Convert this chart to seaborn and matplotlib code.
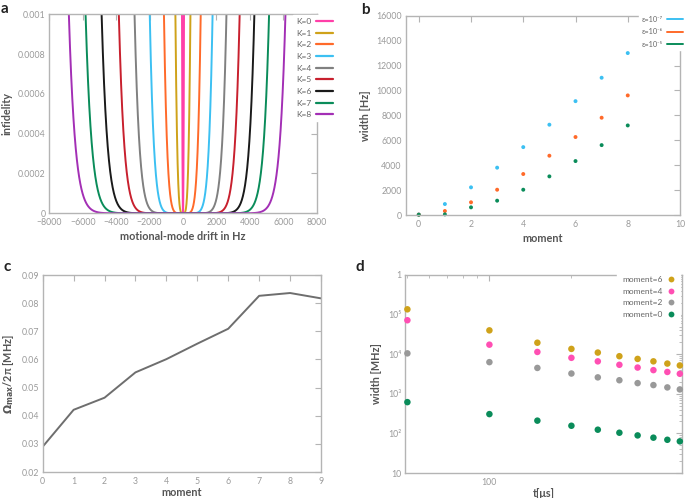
import numpy as np
import pandas as pd
import matplotlib
matplotlib.use('Agg')
import matplotlib.pyplot as plt
import seaborn as sns
from matplotlib.lines import Line2D
from matplotlib.ticker import FixedLocator, FixedFormatter, LogLocator, NullFormatter

# ---------------- data ----------------
# panel a: infidelity vs drift; widths (Hz) where infidelity reaches 0.001
k_orders = [0, 1, 2, 3, 4, 5, 6, 7, 8]
k_labels = ['K=0', 'K=1', 'K=2', 'K=3', 'K=4', 'K=5', 'K=6', 'K=7', 'K=8']
width_left_hz = [60, 455, 1140, 1990, 2900, 3840, 4870, 5830, 6830]
width_right_hz = [60, 445, 1060, 1770, 2600, 3390, 4270, 5150, 6130]
infid_top = 0.001
k_colors = ['#ff3fa8', '#cfa21a', '#ff6a2a', '#3cc0f2', '#808080',
            '#c8202e', '#1a1a1a', '#0a8c5a', '#a32fb5']

# panel b
moments_b = [0, 1, 2, 3, 4, 5, 6, 7, 8]
width_eps7 = [40, 880, 2220, 3800, 5450, 7250, 9140, 11020, 13000]
width_eps6 = [30, 320, 1020, 2030, 3290, 4760, 6260, 7810, 9600]
width_eps5 = [20, 50, 615, 1150, 2030, 3100, 4330, 5610, 7190]
eps_labels = ['ε=10⁻⁷', 'ε=10⁻⁶', 'ε=10⁻⁵']
eps_colors = ['#3cc0f2', '#ff6a2a', '#0a8c5a']

# panel c
moments_c = [0, 1, 2, 3, 4, 5, 6, 7, 8, 9]
omega_max = [0.0290, 0.0421, 0.0464, 0.0554, 0.0601, 0.0656, 0.0709, 0.0826, 0.0836, 0.0817]

# panel d
t_us = [50, 100, 150, 200, 250, 300, 350, 400, 450, 500]
w_m6 = [1.36e5, 4.0e4, 1.95e4, 1.36e4, 1.1e4, 8.9e3, 7.6e3, 6.6e3, 5.8e3, 5.2e3]
w_m4 = [7.2e4, 1.74e4, 1.14e4, 8.1e3, 6.6e3, 5.4e3, 4.6e3, 3.96e3, 3.56e3, 3.2e3]
w_m2 = [1.05e4, 6.3e3, 4.5e3, 3.25e3, 2.6e3, 2.2e3, 1.86e3, 1.66e3, 1.45e3, 1.29e3]
w_m0 = [616, 307, 210, 156, 124, 104, 89, 78, 69, 63]
moment_labels = ['moment=6', 'moment=4', 'moment=2', 'moment=0']
moment_colors = ['#cfa21a', '#ff4fb3', '#999999', '#0a8c5a']

# ---------------- style ----------------
sns.set_style('white')
plt.rcParams['font.family'] = ['Lato', 'DejaVu Sans']
SPINE = '#b4b4b4'
TICKC = '#9a9a9a'
LABC = '#555555'

W, H = 685, 498
fig = plt.figure(figsize=(W / 100, H / 100), dpi=100)


def ax_at(l, t, r, b):
    return fig.add_axes([l / W, 1 - b / H, (r - l) / W, (b - t) / H])


def style(ax):
    for s in ax.spines.values():
        s.set_color(SPINE)
        s.set_linewidth(1.0)
    ax.tick_params(which='both', direction='in', top=True, right=True,
                   color=SPINE, labelcolor=TICKC, labelsize=6.3, pad=2.8)
    ax.tick_params(axis='x', which='both', pad=3.6)
    ax.tick_params(which='major', length=4)
    ax.tick_params(which='minor', length=2)


def lab(ax, xl, yl, xpad=3.0, ypad=4):
    ax.set_xlabel(xl, fontsize=7.8, fontweight='bold', color=LABC, labelpad=xpad)
    ax.set_ylabel(yl, fontsize=7.8, fontweight='bold', color=LABC, labelpad=ypad)


def legend_text(lg):
    for t in lg.get_texts():
        t.set_color('#666666')


# ---------------- panel a ----------------
axa = ax_at(49.3, 14.3, 316.7, 213.3)
rows = []
for k, lbl, wl, wr in zip(k_orders, k_labels, width_left_hz, width_right_hz):
    d = np.concatenate([np.linspace(-wl, 0, 400), np.linspace(0, wr, 400)[1:]])
    p = 2 * k + 2
    inf = np.where(d < 0, (np.abs(d) / wl) ** p, (d / wr) ** p) * infid_top
    rows.append(pd.DataFrame({'drift': d, 'inf': inf, 'K': lbl}))
dfa = pd.concat(rows, ignore_index=True)
sns.lineplot(data=dfa, x='drift', y='inf', hue='K', hue_order=k_labels,
             palette=k_colors, estimator=None, sort=True, lw=1.4, ax=axa, legend=False)
axa.set_xlim(-8000, 8000)
axa.set_ylim(0, 0.001)
axa.set_xticks(np.arange(-8000, 8001, 2000))
axa.set_yticks([0, 0.0002, 0.0004, 0.0006, 0.0008, 0.001])
axa.set_yticklabels(['0', '0.0002', '0.0004', '0.0006', '0.0008', '0.001'])
style(axa)
lab(axa, 'motional-mode drift in Hz', 'infidelity')
ha = [Line2D([], [], color=c, lw=1.6) for c in k_colors]
lg = axa.legend(ha, k_labels, loc='upper right', bbox_to_anchor=(336 / W, 1 - 15 / H),
                bbox_transform=fig.transFigure, fontsize=6, markerfirst=False,
                frameon=True, facecolor='white', edgecolor='white', framealpha=1,
                handlelength=2.0, labelspacing=0.56, borderpad=0.35, borderaxespad=0,
                handletextpad=0.6, fancybox=False)
legend_text(lg)

# ---------------- panel b ----------------
axb = ax_at(405.7, 15.7, 680, 215)
dfb = pd.concat([
    pd.DataFrame({'moment': moments_b, 'width': width_eps7, 'eps': eps_labels[0]}),
    pd.DataFrame({'moment': moments_b, 'width': width_eps6, 'eps': eps_labels[1]}),
    pd.DataFrame({'moment': moments_b, 'width': width_eps5, 'eps': eps_labels[2]}),
], ignore_index=True)
sns.scatterplot(data=dfb, x='moment', y='width', hue='eps', hue_order=eps_labels,
                palette=eps_colors, s=8, linewidth=0, ax=axb, legend=False, clip_on=False)
axb.set_xlim(-0.5, 10)
axb.set_ylim(0, 16000)
axb.set_xticks([0, 2, 4, 6, 8, 10])
axb.set_yticks(np.arange(0, 16001, 2000))
style(axb)
lab(axb, 'moment', 'width [Hz]')
hb = [Line2D([], [], color=c, lw=1.4) for c in eps_colors]
lg = axb.legend(hb, eps_labels, loc='upper right', bbox_to_anchor=(686 / W, 1 - 13 / H),
                bbox_transform=fig.transFigure, fontsize=5.3, markerfirst=False,
                frameon=True, facecolor='white', edgecolor='white', framealpha=1,
                handlelength=2.2, labelspacing=0.75, borderpad=0.35, borderaxespad=0,
                handletextpad=0.6, fancybox=False)
legend_text(lg)

# ---------------- panel c ----------------
axc = ax_at(42.7, 275, 321, 472)
dfc = pd.DataFrame({'moment': moments_c, 'omega': omega_max})
sns.lineplot(data=dfc, x='moment', y='omega', color='#6e6e6e', lw=1.4, ax=axc)
axc.set_xlim(0, 9)
axc.set_ylim(0.02, 0.09)
axc.set_xticks(range(10))
axc.set_yticks([0.02, 0.03, 0.04, 0.05, 0.06, 0.07, 0.08, 0.09])
axc.set_yticklabels(['0.02', '0.03', '0.04', '0.05', '0.06', '0.07', '0.08', '0.09'])
style(axc)
lab(axc, 'moment', r'$\mathbf{\Omega_{max}}$/2π [MHz]', xpad=0.5)

# ---------------- panel d ----------------
axd = ax_at(405, 275, 681.7, 473)
dfd = pd.concat([
    pd.DataFrame({'t': t_us, 'w': w_m6, 'm': moment_labels[0]}),
    pd.DataFrame({'t': t_us, 'w': w_m4, 'm': moment_labels[1]}),
    pd.DataFrame({'t': t_us, 'w': w_m2, 'm': moment_labels[2]}),
    pd.DataFrame({'t': t_us, 'w': w_m0, 'm': moment_labels[3]}),
], ignore_index=True)
sns.scatterplot(data=dfd, x='t', y='w', hue='m', hue_order=moment_labels,
                palette=moment_colors, s=22, linewidth=0, ax=axd, legend=False,
                clip_on=False, zorder=3)
axd.set_xscale('log')
axd.set_yscale('log')
axd.set_xlim(49, 508)
axd.set_ylim(10, 1e6)
axd.xaxis.set_major_locator(FixedLocator([100]))
axd.xaxis.set_major_formatter(FixedFormatter(['100']))
axd.xaxis.set_minor_locator(LogLocator(base=10, subs=np.arange(2, 10)))
axd.xaxis.set_minor_formatter(NullFormatter())
axd.yaxis.set_major_locator(FixedLocator([10, 100, 1e3, 1e4, 1e5, 1e6]))
axd.yaxis.set_major_formatter(FixedFormatter(['10', '10²', '10³', '10⁴', '10⁵', '1']))
axd.yaxis.set_minor_locator(LogLocator(base=10, subs=np.arange(2, 10)))
axd.yaxis.set_minor_formatter(NullFormatter())
style(axd)
lab(axd, 't[μs]', 'width [MHz]', xpad=0.5)
hd = [Line2D([], [], color=c, marker='o', ls='', ms=4.2, mew=0) for c in moment_colors]
lg = axd.legend(hd, moment_labels, loc='upper right', bbox_to_anchor=(680 / W, 1 - 271 / H),
                bbox_transform=fig.transFigure, fontsize=6, markerfirst=False,
                frameon=True, facecolor='white', edgecolor='white', framealpha=1,
                handlelength=1.0, labelspacing=0.55, borderpad=0.6, borderaxespad=0,
                handletextpad=0.5, fancybox=False)
legend_text(lg)

# panel letters
for txt, x, y in [('a', 1, 9), ('b', 361, 10), ('c', 3, 267), ('d', 356, 267)]:
    fig.text(x / W, 1 - y / H, txt, fontsize=11, fontweight='bold', color='#222222',
             va='center', ha='left')

fig.savefig('out.png', dpi=100)
